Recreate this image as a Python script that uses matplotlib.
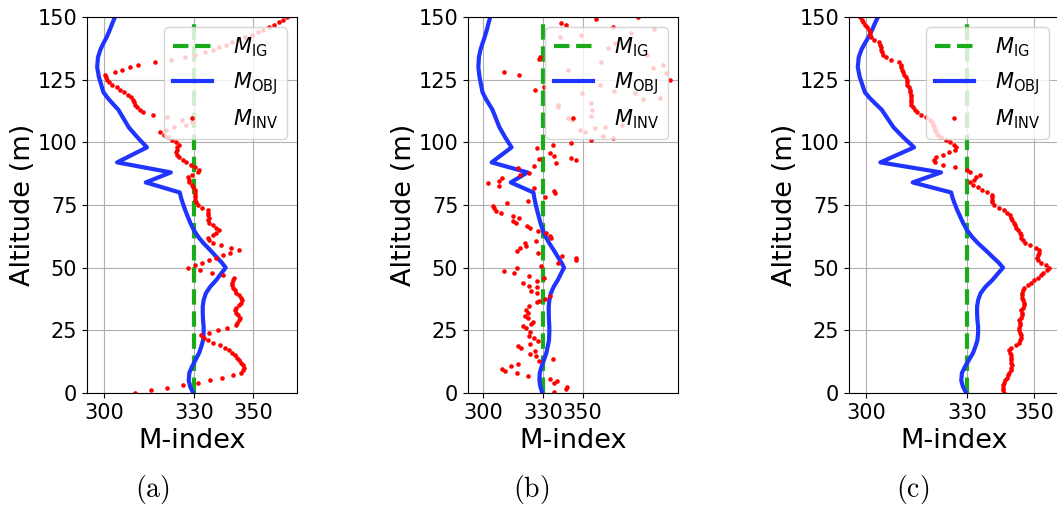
import numpy as np
import matplotlib
matplotlib.use('Agg')
import matplotlib.pyplot as plt

# altitude grid (m) for the inverted profiles
alt = np.arange(0, 151)

# initial guess
m_ig = 330.0

# objective (true) profile
alt_obj = [0, 2.5, 5, 8, 10.5, 13, 16, 18.5, 21, 24, 26.5, 29, 32, 34.5, 37, 39.7,
           42.4, 45, 47.7, 50, 52, 54.4, 57, 59.7, 62.3, 65, 67.7, 70.3, 73, 75.7,
           78, 80, 84, 88, 92, 98, 102, 106, 110, 113, 115.6, 117.6, 120, 122, 126,
           130, 134, 137, 139.5, 142, 145, 147.5, 150]
m_obj = [329.8, 328.8, 328.3, 328.5, 329.4, 330.5, 331.8, 332.5, 333.1, 333.3, 333.3,
         333.1, 333.0, 333.0, 333.3, 334.0, 335.5, 337.5, 339.2, 340.7, 339.4, 337.5,
         335.5, 333.3, 331.5, 330.0, 328.9, 328.0, 327.1, 326.3, 325.7, 325.3, 313.9,
         322.3, 304.3, 314.3, 311.1, 308.2, 306.2, 304.7, 302.7, 301.2, 299.7, 299.2,
         298.2, 297.6, 297.9, 298.7, 299.7, 300.8, 301.9, 302.7, 303.6]

# (a) inverted profile
m_inv_a = [
    310.3, 315.6, 321.0, 326.4, 331.5, 335.5, 339.4, 343.1, 345.9, 346.4,
    346.7, 346.6, 345.9, 345.1, 344.6, 343.9, 342.8, 341.7, 340.6, 338.8,
    336.6, 334.8, 333.4, 332.3, 335.1, 338.1, 341.2, 344.0, 344.5, 345.0,
    345.4, 344.8, 344.3, 343.8, 344.3, 345.0, 345.7, 346.2, 345.9, 345.0,
    344.3, 343.8, 343.1, 342.8, 342.8, 343.1, 343.4, 339.9, 336.0, 332.0,
    328.1, 330.3, 332.8, 335.0, 337.6, 339.9, 342.3, 345.3, 342.6, 339.0,
    336.3, 335.0, 334.8, 336.5, 337.6, 338.5, 337.6, 336.4, 335.2, 334.8,
    335.1, 334.8, 334.6, 334.6, 332.8, 331.4, 330.8, 330.3, 330.5, 330.5,
    330.4, 330.3, 329.8, 329.5, 328.5, 328.3, 328.1, 329.4, 331.4, 331.8,
    330.3, 329.0, 327.5, 326.4, 325.0, 324.5, 324.2, 324.3, 324.5, 325.0,
    323.9, 322.7, 321.4, 320.0, 318.6, 320.8, 323.5, 327.5, 329.5, 326.0,
    321.0, 316.2, 313.0, 311.9, 311.1, 310.3, 309.9, 309.7, 309.1, 307.8,
    306.7, 305.2, 304.1, 302.7, 301.6, 300.8, 300.6, 300.4, 303.6, 305.8,
    308.6, 311.4, 316.9, 322.3, 327.0, 330.5, 333.6, 336.3, 338.6, 340.8,
    342.9, 344.9, 347.0, 349.4, 351.5, 353.3, 355.2, 357.0, 358.6, 360.0,
    361.4]

# (b) inverted profile (scattered)
alt_b = [0.5, 1.6, 2.5, 3.8, 4.8, 5.6, 6.8, 7.8, 8.8, 9.7, 10.8, 11.7, 12.8, 13.7,
         14.9, 15.7, 16.7, 17.8, 18.9, 19.7, 20.7, 21.8, 22.9, 24.2, 25.8, 26.7,
         27.5, 28.4, 29.8, 30.7, 31.8, 33.1, 34.7, 36.2, 36.8, 37.6, 38.7, 39.7,
         40.8, 42.1, 42.7, 43.7, 44.7, 45.7, 46.7, 47.7, 48.8, 49.7, 50.8, 51.7,
         53.0, 53.7, 54.8, 55.7, 56.8, 57.7, 58.8, 59.7, 60.8, 61.7, 62.6, 63.7,
         64.6, 65.7, 66.7, 67.7, 68.7, 69.7, 70.7, 71.7, 72.6, 73.7, 74.6, 75.6,
         76.6, 78.0, 79.7, 80.6, 81.7, 82.7, 83.9, 84.7, 85.9, 87.0, 87.6, 89.9,
         90.7, 91.6, 93.0, 93.2, 93.9, 94.7, 95.9, 97.9, 98.8, 99.9, 100.9, 101.9,
         102.5, 104.0, 104.9, 105.9, 106.0, 107.0, 108.9, 109.9, 110.5, 112.9,
         114.2, 114.9, 115.8, 117.2, 117.8, 119.8, 119.8, 120.6, 120.9, 122.0,
         122.8, 124.9, 126.9, 127.8, 128.0, 128.8, 129.8, 130.9, 131.9, 133.1,
         134.2, 134.9, 137.8, 139.4, 139.8, 142.2, 142.8, 143.6, 145.1, 146.2,
         146.8, 147.7, 149.1, 149.9]
m_inv_b = [335.6, 341.5, 342.2, 335.6, 337.3, 333.4, 322.8, 316.9, 310.8, 309.3,
           314.2, 317.7, 328.3, 335.2, 326.6, 323.8, 326.0, 319.1, 317.4, 323.8,
           327.5, 325.5, 323.3, 323.8, 321.6, 320.2, 324.1, 325.0, 322.4, 321.2,
           322.4, 321.6, 323.3, 327.2, 328.0, 331.2, 333.4, 327.0, 324.3, 327.0,
           322.9, 319.9, 327.1, 330.4, 323.3, 315.7, 310.6, 317.0, 329.2, 337.6,
           346.9, 346.5, 339.6, 327.5, 317.0, 318.7, 321.6, 320.9, 326.6, 334.2,
           333.4, 331.7, 327.7, 323.8, 321.9, 316.5, 314.8, 317.9, 314.8, 308.9,
           306.7, 305.5, 305.2, 312.0, 322.4, 331.0, 335.9, 335.6, 325.8, 308.1,
           302.7, 307.8, 309.4, 318.7, 323.3, 317.4, 325.8, 336.8, 346.5, 328.0,
           344.4, 335.4, 333.4, 327.2, 335.1, 344.4, 354.5, 365.4, 360.4, 351.4,
           348.6, 356.3, 361.2, 369.6, 344.9, 342.7, 354.0, 355.0, 337.6, 337.9,
           354.5, 380.6, 388.7, 349.9, 376.4, 365.9, 326.3, 330.4, 359.0, 394.1,
           318.2, 392.1, 310.6, 342.7, 385.4, 390.7, 359.5, 328.3, 328.7, 382.3,
           363.0, 373.2, 366.1, 338.7, 349.4, 374.6, 385.7, 365.4, 341.5, 339.3,
           357.0, 378.1]

# (c) inverted profile
m_inv_c = [
    341.0, 340.7, 340.7, 340.8, 341.0, 341.3, 341.8, 342.3, 342.6, 343.0,
    343.2, 343.3, 343.1, 343.0, 343.0, 343.0, 342.7, 342.5, 343.0, 344.4,
    345.3, 345.7, 345.9, 346.0, 345.6, 345.3, 345.5, 345.7, 345.6, 345.5,
    345.9, 346.3, 346.2, 346.0, 346.5, 347.0, 346.8, 346.5, 346.4, 346.3,
    346.4, 346.5, 346.8, 348.0, 349.0, 350.0, 351.0, 352.0, 352.7, 353.6,
    354.2, 353.5, 352.0, 351.2, 350.9, 351.1, 351.4, 351.3, 350.6, 348.8,
    347.3, 346.5, 346.1, 345.9, 345.6, 345.0, 344.6, 344.2, 343.9, 343.5,
    343.1, 342.7, 342.0, 341.0, 339.5, 338.0, 337.5, 337.4, 337.3, 337.3,
    336.0, 334.5, 333.3, 331.9, 331.0, 332.0, 332.8, 334.0, 331.0, 330.0,
    326.4, 322.8, 320.6, 320.1, 320.8, 323.0, 324.8, 326.4, 326.8, 326.2,
    325.0, 323.7, 322.3, 321.3, 320.8, 320.5, 320.2, 320.0, 319.6, 318.9,
    317.8, 316.4, 315.3, 314.5, 313.9, 313.5, 313.4, 313.3, 313.4, 313.4,
    313.2, 313.0, 312.7, 312.3, 312.2, 312.3, 311.8, 311.3, 310.9, 310.7,
    310.5, 310.4, 309.9, 307.6, 306.0, 305.1, 304.8, 304.6, 304.4, 304.2,
    303.8, 302.4, 301.6, 301.3, 301.1, 300.9, 300.4, 299.8, 299.3, 298.8,
    298.3]

panels = [
    ('(a)', alt, m_inv_a, (294.2, 364.6)),
    ('(b)', alt_b, m_inv_b, (292.4, 398.0)),
    ('(c)', alt, m_inv_c, (295.0, 357.3)),
]

W, H = 1057, 505
fig = plt.figure(figsize=(W / 100, H / 100), dpi=100)

lefts = [87, 468, 849]
cap_x = [152, 531, 913]

for i, (tag, a_inv, m_inv, xl) in enumerate(panels):
    ax = fig.add_axes([lefts[i] / W, 112 / H, 210 / W, 376 / H])
    ax.plot(np.full(len(alt), m_ig), alt, '--', color='#1aab1a', lw=3.0,
            label=r'$M_{\mathrm{IG}}$')
    ax.plot(m_obj, alt_obj, '-', color='#1f35ff', lw=3.0,
            label=r'$M_{\mathrm{OBJ}}$')
    ax.plot(m_inv, a_inv, 'o', color='red', ms=3.3, mew=0, ls='none',
            label=r'$M_{\mathrm{INV}}$')
    ax.set_xlim(*xl)
    ax.set_ylim(0, 150)
    ax.set_xticks([300, 330, 350])
    ax.set_yticks(np.arange(0, 151, 25))
    ax.tick_params(labelsize=15)
    ax.grid(True)
    ax.set_xlabel('M-index', fontsize=19.5)
    ax.set_ylabel('Altitude (m)', fontsize=19.5, labelpad=1)
    ax.legend(loc='upper right', fontsize=15, numpoints=1,
              handlelength=1.9, handletextpad=1.0)
    fig.text(cap_x[i] / W, 1 - 489 / H, r'$\mathrm{' + tag + '}$',
             math_fontfamily='cm', fontsize=20, ha='center', va='center')

fig.savefig('out.png', dpi=100)
